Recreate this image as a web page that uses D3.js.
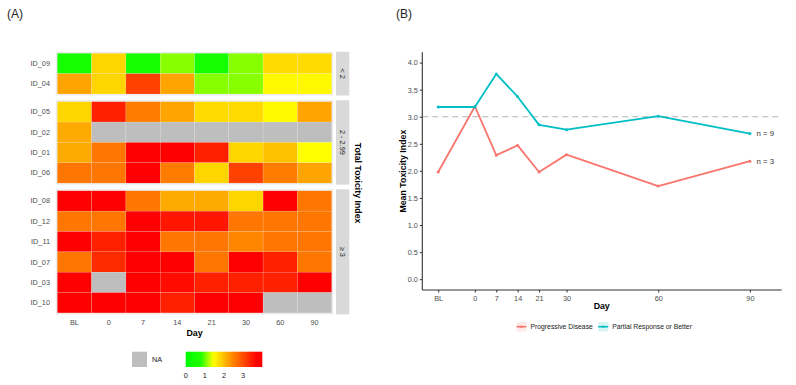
<!DOCTYPE html>
<html lang="en">
<head>
<meta charset="UTF-8">
<title>Toxicity Index</title>
<script src="https://cdn.jsdelivr.net/npm/d3@7"></script>
<style>
    body { margin: 0; background: #fff; font-family: "Liberation Sans", Arial, sans-serif; }
    svg text { font-family: "Liberation Sans", Arial, sans-serif; }
</style>
</head>
<body>
<svg id="chart" width="796" height="385"></svg>
<script>
// ---- data: heatmap (A) ----
const days = ["BL", "0", "7", "14", "21", "30", "60", "90"];
const groups = ["< 2", "2 - 2.99", "\u2265 3"];
const groupIds = [
    ["ID_09", "ID_04"],
    ["ID_05", "ID_02", "ID_01", "ID_06"],
    ["ID_08", "ID_12", "ID_11", "ID_07", "ID_03", "ID_10"]
];
// null = NA
const toxicity = {
    ID_09: [0.5, 1.8, 0.5, 1.1, 0.5, 1.1, 1.75, 1.75],
    ID_04: [2.2, 1.8, 3.1, 2.2, 1.1, 1.1, 1.5, 1.5],
    ID_05: [1.8, 3.4, 2.55, 2.2, 1.75, 1.75, 1.5, 2.2],
    ID_02: [2.15, null, null, null, null, null, null, null],
    ID_01: [2.15, 2.6, 3.7, 3.7, 3.4, 1.8, 1.95, 1.45],
    ID_06: [2.6, 2.6, 3.7, 2.55, 1.8, 3.1, 2.55, 2.2],
    ID_08: [3.7, 3.7, 2.6, 2.15, 2.15, 1.8, 3.7, 2.6],
    ID_12: [2.6, 2.6, 3.7, 3.5, 3.5, 2.6, 2.6, 2.6],
    ID_11: [3.7, 3.4, 3.7, 2.6, 2.6, 2.45, 2.6, 2.6],
    ID_07: [2.6, 3.3, 3.7, 3.7, 2.6, 3.7, 3.4, 2.6],
    ID_03: [3.7, null, 3.7, 3.6, 3.4, 3.4, 3.4, 3.7],
    ID_10: [3.7, 3.7, 3.7, 3.4, 3.7, 3.7, null, null]
};
const legendTicks = [0, 1, 2, 3];

// ---- data: mean lines (B) ----
const lineDays = [-12, 0, 7, 14, 21, 30, 60, 90];
const lineDayLabels = ["BL", "0", "7", "14", "21", "30", "60", "90"];
const progressive = [1.98, 3.19, 2.29, 2.47, 1.98, 2.30, 1.72, 2.18];
const partial = [3.18, 3.18, 3.79, 3.37, 2.85, 2.76, 3.01, 2.69];
const seriesNames = ["Progressive Disease", "Partial Response or Better"];
const seriesN = ["n = 3", "n = 9"];
const yTicksB = [0, 0.5, 1, 1.5, 2, 2.5, 3, 3.5, 4];

const svg = d3.select("#chart");
const tickCol = "#4d4d4d";
const fs = 7.3;

// panel labels
svg.append("text").attr("x", 7).attr("y", 18).attr("font-size", 12).attr("fill", "#222").text("(A)");
svg.append("text").attr("x", 396).attr("y", 18).attr("font-size", 12).attr("fill", "#222").text("(B)");

// ================= Panel A =================
const color = d3.scaleLinear()
    .domain([0, 0.8, 1.45, 2.4, 3.7, 4])
    .range(["#00ff00", "#22ff00", "#ffff00", "#ff8c00", "#ff0000", "#ff0000"])
    .clamp(true);

const x = d3.scaleBand().domain(days).range([57.3, 331.7]);
const rowH = 20.35, gap = 7.7, topA = 53.3;

let yCursor = topA;
const A = svg.append("g");
groups.forEach((g, gi) => {
    const ids = groupIds[gi];
    const y = d3.scaleBand().domain(ids).range([yCursor, yCursor + ids.length * rowH]);
    const [y0, y1] = y.range();

    A.append("rect").attr("x", 55.8).attr("y", y0 - 1.5).attr("width", 277.4).attr("height", y1 - y0 + 3)
        .attr("fill", "#ebebeb");

    ids.forEach(id => {
        A.selectAll(null).data(toxicity[id]).enter().append("rect")
            .attr("x", (d, i) => x(days[i]))
            .attr("y", y(id))
            .attr("width", x.bandwidth())
            .attr("height", y.bandwidth())
            .attr("fill", d => d == null ? "#bebebe" : color(d))
            .attr("stroke", "#ffffff").attr("stroke-opacity", 0.35).attr("stroke-width", 0.4);

        A.append("text").attr("x", 50).attr("y", y(id) + y.bandwidth() / 2)
            .attr("text-anchor", "end").attr("dominant-baseline", "central")
            .attr("font-size", fs).attr("fill", tickCol).text(id);
    });

    // strip
    A.append("rect").attr("x", 336).attr("y", y0 - 1.5).attr("width", 13.3).attr("height", y1 - y0 + 3)
        .attr("fill", "#d9d9d9");
    A.append("text")
        .attr("transform", `translate(342.6,${(y0 + y1) / 2}) rotate(90)`)
        .attr("text-anchor", "middle").attr("dominant-baseline", "central")
        .attr("font-size", 7.3).attr("fill", "#1a1a1a").text(g);

    yCursor = y1 + gap;
});

const bottomA = yCursor - gap;
A.append("text")
    .attr("transform", `translate(357.5,${(topA + bottomA) / 2}) rotate(90)`)
    .attr("text-anchor", "middle").attr("dominant-baseline", "central")
    .attr("font-size", 8.8).attr("font-weight", "bold").attr("fill", "#000").text("Total Toxicity Index");

A.selectAll(".xt").data(days).enter().append("text")
    .attr("x", d => x(d) + x.bandwidth() / 2).attr("y", 322)
    .attr("text-anchor", "middle").attr("dominant-baseline", "central")
    .attr("font-size", fs).attr("fill", tickCol).text(d => d);
A.append("text").attr("x", 194.5).attr("y", 333).attr("text-anchor", "middle").attr("dominant-baseline", "central")
    .attr("font-size", 8.8).attr("font-weight", "bold").attr("fill", "#000").text("Day");

// legend A
A.append("rect").attr("x", 132).attr("y", 351.7).attr("width", 15).attr("height", 15.3).attr("fill", "#bebebe");
A.append("text").attr("x", 152).attr("y", 359.5).attr("dominant-baseline", "central")
    .attr("font-size", fs).attr("fill", "#1a1a1a").text("NA");

const lg = d3.scaleLinear().domain([0, 4]).range([185.7, 262.3]);
const defs = svg.append("defs");
const grad = defs.append("linearGradient").attr("id", "tox");
d3.range(0, 4.01, 0.1).forEach(v => {
    grad.append("stop").attr("offset", (v / 4 * 100) + "%").attr("stop-color", color(v));
});
A.append("rect").attr("x", lg(0)).attr("y", 351.7).attr("width", lg(4) - lg(0)).attr("height", 15.3)
    .attr("fill", "url(#tox)");
A.selectAll(".lt").data(legendTicks).enter().append("text")
    .attr("x", d => lg(d)).attr("y", 375.5)
    .attr("text-anchor", "middle").attr("dominant-baseline", "central")
    .attr("font-size", fs).attr("fill", "#1a1a1a").text(d => d);

// ================= Panel B =================
const B = svg.append("g");
const xb = d3.scaleLinear().domain([-17.2, 100.4]).range([422.3, 781.7]);
const yb = d3.scaleLinear().domain([-0.2, 4.19]).range([290, 52.3]);

// reference line
B.append("line").attr("x1", xb.range()[0]).attr("x2", xb.range()[1])
    .attr("y1", yb(3)).attr("y2", yb(3))
    .attr("stroke", "#b3b3b3").attr("stroke-width", 1.1).attr("stroke-dasharray", "6,4");

const yAxis = d3.axisLeft(yb).tickValues(yTicksB).tickFormat(d3.format(".1f")).tickSize(2.5).tickPadding(2);
const gy = B.append("g").attr("transform", `translate(${xb.range()[0]},0)`).call(yAxis);
const xAxis = d3.axisBottom(xb).tickValues(lineDays).tickFormat((d, i) => lineDayLabels[i]).tickSize(2.5).tickPadding(3);
const gx = B.append("g").attr("transform", `translate(0,${yb.range()[0]})`).call(xAxis);
[gx, gy].forEach(g => {
    g.select(".domain").attr("stroke", "#333").attr("stroke-width", 1.1);
    g.selectAll(".tick line").attr("stroke", "#333");
    g.selectAll(".tick text").attr("fill", tickCol).attr("font-size", fs);
});
gx.select(".domain").attr("d", `M${xb.range()[0]},0H${xb.range()[1]}`);
gy.select(".domain").attr("d", `M0,${yb.range()[1]}V${yb.range()[0]}`);

const series = [
    { name: seriesNames[0], values: progressive, col: "#F8766D", n: seriesN[0] },
    { name: seriesNames[1], values: partial, col: "#00BFC4", n: seriesN[1] }
];
const line = d3.line().x((d, i) => xb(lineDays[i])).y(d => yb(d));
series.forEach(s => {
    B.append("path").datum(s.values).attr("d", line)
        .attr("fill", "none").attr("stroke", s.col).attr("stroke-width", 1.8).attr("stroke-linejoin", "round");
    B.selectAll(null).data(s.values).enter().append("circle")
        .attr("cx", (d, i) => xb(lineDays[i])).attr("cy", d => yb(d)).attr("r", 1.5).attr("fill", s.col);
    B.append("text").attr("x", 756.5).attr("y", yb(s.values[s.values.length - 1]))
        .attr("dominant-baseline", "central").attr("font-size", 7.8).attr("fill", "#333").text(s.n);
});

B.append("text").attr("x", 601.7).attr("y", 305.5).attr("text-anchor", "middle").attr("dominant-baseline", "central")
    .attr("font-size", 8.8).attr("font-weight", "bold").attr("fill", "#000").text("Day");
B.append("text")
    .attr("transform", `translate(402.5,${(yb.range()[0] + yb.range()[1]) / 2}) rotate(-90)`)
    .attr("text-anchor", "middle").attr("dominant-baseline", "central")
    .attr("font-size", 8.8).attr("font-weight", "bold").attr("fill", "#000").text("Mean Toxicity Index");

// legend B
const legX = [516.5, 598.2];
series.forEach((s, i) => {
    const lx = legX[i];
    B.append("rect").attr("x", lx).attr("y", 322).attr("width", 10).attr("height", 9.5)
        .attr("fill", s.col).attr("fill-opacity", 0.15);
    B.append("line").attr("x1", lx).attr("x2", lx + 10).attr("y1", 326.7).attr("y2", 326.7)
        .attr("stroke", s.col).attr("stroke-width", 1.6);
    B.append("circle").attr("cx", lx + 5).attr("cy", 326.7).attr("r", 1.2).attr("fill", s.col);
    B.append("text").attr("x", lx + 14).attr("y", 326.7).attr("dominant-baseline", "central")
        .attr("font-size", 6.8).attr("fill", "#1a1a1a").text(s.name);
});
</script>
</body>
</html>
